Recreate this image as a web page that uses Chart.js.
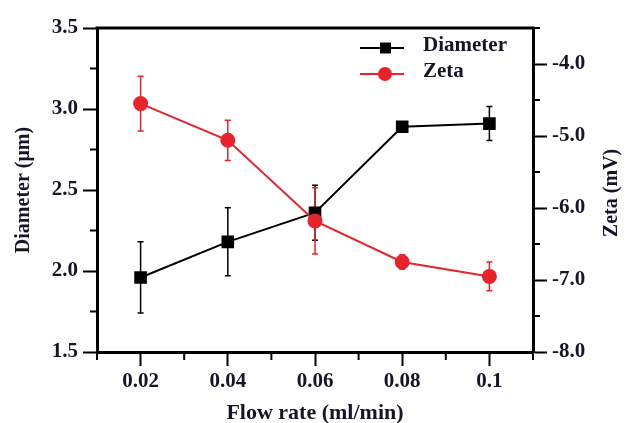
<!DOCTYPE html>
<html>
<head>
<meta charset="utf-8">
<script src="https://cdn.jsdelivr.net/npm/chart.js@4/dist/chart.umd.min.js"></script>
<style>
  body { margin: 0; background: #fff; }
  #wrap { width: 629px; height: 423px; }
</style>
</head>
<body>
<div id="wrap"><canvas id="chart" width="629" height="423"></canvas></div>
<script>
// data
const flowRates = [0.02, 0.04, 0.06, 0.08, 0.1];
const diameter = [1.96, 2.18, 2.36, 2.89, 2.91];
const diameterErr = [0.22, 0.21, 0.17, 0.02, 0.105];
const zeta = [-4.55, -5.06, -6.18, -6.75, -6.95];
const zetaErr = [0.38, 0.28, 0.46, 0.1, 0.2];

const xTicks = [0.02, 0.04, 0.06, 0.08, 0.1];
const xMinor = [0.01, 0.03, 0.05, 0.07, 0.09, 0.11];
const leftTicks = [1.5, 2.0, 2.5, 3.0, 3.5];
const leftMinor = [1.75, 2.25, 2.75, 3.25];
const rightTicks = [-8.0, -7.0, -6.0, -5.0, -4.0];
const rightMinor = [-7.5, -6.5, -5.5, -4.5, -3.5];

const RED = '#e8232b';
const TXT = '#15152a';
const SERIF = "'Liberation Serif', 'Times New Roman', serif";

const fixedTicks = (vals) => (scale) => { scale.ticks = vals.map(v => ({ value: v })); };

// error bars, minor ticks, frame top, legend, right title
const extras = {
    id: 'extras',
    beforeDatasetsDraw(chart) {
        const ctx = chart.ctx;
        const x = chart.scales.x;
        const sets = [
            { vals: diameter, errs: diameterErr, axis: chart.scales.y, color: '#000' },
            { vals: zeta, errs: zetaErr, axis: chart.scales.y2, color: RED }
        ];
        ctx.save();
        sets.forEach(s => {
            ctx.strokeStyle = s.color;
            ctx.lineWidth = 1.5;
            s.vals.forEach((v, i) => {
                const px = x.getPixelForValue(flowRates[i]);
                const top = s.axis.getPixelForValue(v + s.errs[i]);
                const bot = s.axis.getPixelForValue(v - s.errs[i]);
                ctx.beginPath();
                ctx.moveTo(px, top); ctx.lineTo(px, bot);
                ctx.moveTo(px - 3, top); ctx.lineTo(px + 3, top);
                ctx.moveTo(px - 3, bot); ctx.lineTo(px + 3, bot);
                ctx.stroke();
            });
        });
        ctx.restore();
    },
    afterDraw(chart) {
        const ctx = chart.ctx;
        const area = chart.chartArea;
        const { x, y, y2 } = chart.scales;
        ctx.save();
        ctx.strokeStyle = '#000';
        // top frame line
        ctx.lineWidth = 3;
        ctx.beginPath();
        ctx.moveTo(area.left - 1.5, area.top); ctx.lineTo(area.right + 1.5, area.top);
        ctx.stroke();
        // minor ticks
        ctx.lineWidth = 2;
        ctx.beginPath();
        xMinor.forEach(v => {
            const px = x.getPixelForValue(v);
            ctx.moveTo(px, area.bottom); ctx.lineTo(px, area.bottom + 8);
        });
        leftMinor.forEach(v => {
            const py = y.getPixelForValue(v);
            ctx.moveTo(area.left, py); ctx.lineTo(area.left - 7, py);
        });
        rightMinor.forEach(v => {
            const py = y2.getPixelForValue(v);
            ctx.moveTo(area.right, py); ctx.lineTo(area.right + 7, py);
        });
        ctx.stroke();

        // legend
        const items = [
            { label: 'Diameter', color: '#000', shape: 'rect', ly: 48 },
            { label: 'Zeta', color: RED, shape: 'circle', ly: 74 }
        ];
        items.forEach(it => {
            ctx.strokeStyle = it.color;
            ctx.fillStyle = it.color;
            ctx.lineWidth = 2;
            ctx.beginPath();
            ctx.moveTo(360, it.ly); ctx.lineTo(404, it.ly);
            ctx.stroke();
            if (it.shape === 'rect') {
                ctx.fillRect(380, it.ly - 5.5, 11, 11);
            } else {
                ctx.beginPath();
                ctx.arc(385, it.ly, 7, 0, Math.PI * 2);
                ctx.fill();
            }
            ctx.fillStyle = TXT;
            ctx.font = 'bold 21px ' + SERIF;
            ctx.textAlign = 'left';
            ctx.textBaseline = 'middle';
            ctx.fillText(it.label, 423, it.ly - 2);
        });

        // right axis title, reading bottom to top
        ctx.translate(612, (area.top + area.bottom) / 2 + 3);
        ctx.rotate(-Math.PI / 2);
        ctx.fillStyle = TXT;
        ctx.font = 'bold 20px ' + SERIF;
        ctx.textAlign = 'center';
        ctx.textBaseline = 'middle';
        ctx.fillText('Zeta (mV)', 0, 0);
        ctx.restore();
    }
};

const tickFont = { family: SERIF, size: 21, weight: 'bold' };

new Chart(document.getElementById('chart'), {
    type: 'line',
    data: {
        datasets: [{
            label: 'Diameter',
            data: flowRates.map((f, i) => ({ x: f, y: diameter[i] })),
            yAxisID: 'y',
            borderColor: '#000',
            backgroundColor: '#000',
            borderWidth: 2,
            pointStyle: 'rect',
            pointRadius: 7.5,
            pointHoverRadius: 7.5,
            order: 2
        }, {
            label: 'Zeta',
            data: flowRates.map((f, i) => ({ x: f, y: zeta[i] })),
            yAxisID: 'y2',
            borderColor: RED,
            backgroundColor: RED,
            borderWidth: 2,
            pointStyle: 'circle',
            pointRadius: 6.5,
            pointHoverRadius: 6.5,
            order: 1
        }]
    },
    options: {
        responsive: false,
        animation: false,
        devicePixelRatio: 1,
        layout: { padding: { top: 28, left: 0, right: 0, bottom: 0 } },
        plugins: {
            legend: { display: false },
            tooltip: { enabled: false }
        },
        scales: {
            x: {
                type: 'linear',
                min: 0.01,
                max: 0.11,
                afterBuildTicks: fixedTicks(xTicks),
                afterFit: (s) => { s.height = 71; },
                grid: { drawOnChartArea: false, tickLength: 14, tickWidth: 2, tickColor: '#000' },
                border: { width: 3, color: '#000' },
                ticks: {
                    color: TXT,
                    font: tickFont,
                    padding: 3,
                    maxRotation: 0,
                    callback: (v) => String(Math.round(v * 100) / 100)
                },
                title: {
                    display: true,
                    text: 'Flow rate (ml/min)',
                    color: TXT,
                    font: { family: SERIF, size: 22, weight: 'bold' },
                    padding: { top: 0, bottom: -4 }
                }
            },
            y: {
                position: 'left',
                min: 1.5,
                max: 3.5,
                afterBuildTicks: fixedTicks(leftTicks),
                afterFit: (s) => { s.width = 97; },
                grid: { drawOnChartArea: false, tickLength: 14, tickWidth: 2, tickColor: '#000' },
                border: { width: 3, color: '#000' },
                ticks: {
                    color: TXT,
                    font: tickFont,
                    padding: 5,
                    callback: (v) => v.toFixed(1)
                },
                title: {
                    display: true,
                    text: 'Diameter (μm)',
                    color: TXT,
                    font: { family: SERIF, size: 20, weight: 'bold' },
                    padding: { top: 12, bottom: 0 }
                }
            },
            y2: {
                position: 'right',
                min: -8,
                max: -3.5,
                afterBuildTicks: fixedTicks(rightTicks),
                afterFit: (s) => { s.width = 96; },
                grid: { drawOnChartArea: false, tickLength: 14, tickWidth: 2, tickColor: '#000' },
                border: { width: 3, color: '#000' },
                ticks: {
                    color: TXT,
                    font: tickFont,
                    padding: 5,
                    callback: (v) => v.toFixed(1)
                }
            }
        }
    },
    plugins: [extras]
});
</script>
</body>
</html>
